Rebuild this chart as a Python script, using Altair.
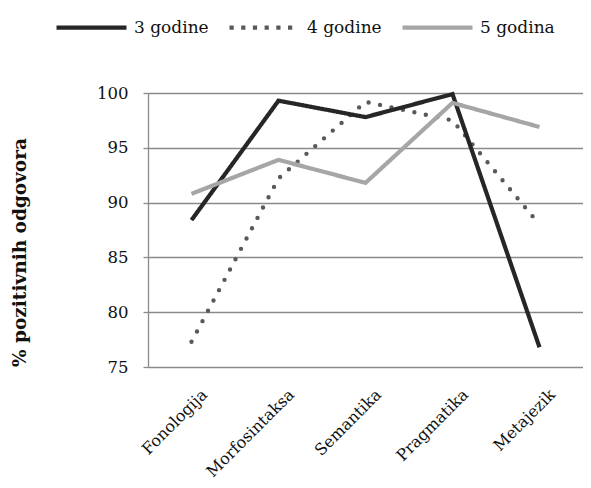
import altair as alt
import pandas as pd

categories = ["Fonologija", "Morfosintaksa", "Semantika", "Pragmatika", "Metajezik"]
series = ["3 godine", "4 godine", "5 godina"]
vals_3 = [88.4, 99.3, 97.8, 99.9, 76.8]
vals_4 = [77.3, 92.2, 99.2, 97.5, 88.0]
vals_5 = [90.8, 93.9, 91.8, 99.1, 96.9]
y_ticks = [75, 80, 85, 90, 95, 100]

colors = ["#262626", "#595959", "#a6a6a6"]
dashes = [[1, 0], [4.2, 7.5], [1, 0]]

rows = []
for s, vals in zip(series, [vals_3, vals_4, vals_5]):
    for c, v in zip(categories, vals):
        rows.append({"kategorija": c, "serija": s, "vrijednost": v})
df = pd.DataFrame(rows)

FONT = "DejaVu Serif"

leg = alt.Legend(title=None, orient="none", direction="horizontal",
                 legendX=-94, legendY=-103,
                 symbolType="stroke", symbolSize=4900,
                 symbolStrokeWidth=4.2, labelFont=FONT,
                 labelFontSize=17, labelColor="#111111",
                 labelOffset=5, columnPadding=12)

x_enc = alt.X("kategorija:N", sort=categories,
              scale=alt.Scale(type="point", padding=0.5),
              axis=alt.Axis(title=None, labelAngle=-45, domain=False, ticks=False, grid=False,
                            labelPadding=19, labelOffset=7, labelFontSize=16, labelFont=FONT,
                            labelColor="#111111", labelAlign="right", labelBaseline="top"))
y_enc = alt.Y("vrijednost:Q", scale=alt.Scale(domain=[75, 100], nice=False, zero=False),
              axis=alt.Axis(values=y_ticks, title="% pozitivnih odgovora", titleFont=FONT,
                            titleFontSize=18.5, titleFontWeight="bold", titleColor="#111111",
                            titleX=-119, titleY=159, titleBaseline="bottom",
                            labelFont=FONT, labelFontSize=16.5, labelColor="#111111",
                            labelPadding=15, tickSize=5, tickColor="#8a8a8a",
                            domainColor="#8a8a8a", domainWidth=1.3, tickWidth=1.3,
                            gridColor="#8a8a8a", gridWidth=1.3))
c_enc = alt.Color("serija:N", sort=series, scale=alt.Scale(domain=series, range=colors), legend=leg)
d_enc = alt.StrokeDash("serija:N", sort=series, scale=alt.Scale(domain=series, range=dashes), legend=leg)

base = alt.Chart(df)

dotted = base.transform_filter(alt.datum.serija == "4 godine").mark_line(
    strokeWidth=4.4, strokeCap="round", strokeDash=[0, 11.7]
).encode(x=x_enc, y=y_enc, color=c_enc)

solid = base.transform_filter(alt.datum.serija != "4 godine").mark_line(
    strokeWidth=4.2, strokeCap="butt", strokeJoin="miter"
).encode(x=x_enc, y=y_enc, color=c_enc, strokeDash=d_enc)

chart = alt.layer(dotted, solid).properties(
    width=435, height=274,
    autosize=alt.AutoSizeParams(type="none"),
    padding={"left": 140, "top": 85, "right": 0, "bottom": 113},
).configure_view(stroke=None).configure(background="white")

chart.save("out.html", embed_options={"renderer": "svg", "actions": False})
